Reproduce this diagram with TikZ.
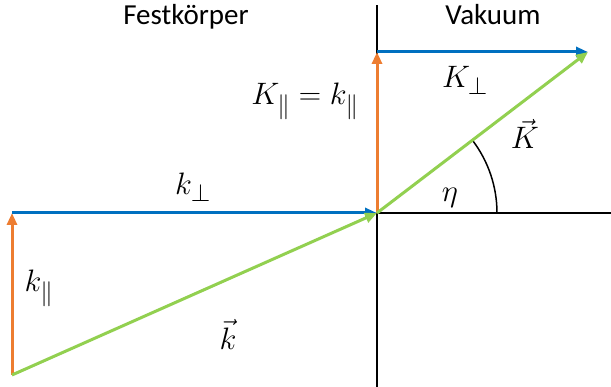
\RequirePackage{fix-cm}
\documentclass[tikz,border=0pt]{standalone}
\usepackage{fontspec}
\setmainfont{Carlito}
\DeclareMathSizes{31}{31}{25}{19}
\usetikzlibrary{arrows.meta}
\definecolor{myblue}{HTML}{0070C0}
\definecolor{myorange}{HTML}{ED7D31}
\definecolor{mygreen}{HTML}{92D050}
\tikzset{
  axis/.style={line width=2.6pt, black},
  vec/.style={line width=3pt, -{Triangle[length=12pt,width=10pt]}},
  lbl/.style={font=\fontsize{29}{34}\selectfont, inner sep=0pt, anchor=base},
  mlbl/.style={font=\fontsize{31}{36}\selectfont, inner sep=0pt, anchor=base},
}
\begin{document}
\begin{tikzpicture}[x=1pt,y=1pt]
\useasboundingbox (0,0) rectangle (611,387);
\coordinate (O) at (377,174);
\coordinate (Vt) at (377,382);
\coordinate (Vb) at (377,0);
\coordinate (Hr) at (611,174);
\coordinate (A) at (12,174);
\coordinate (B) at (12,12);
\coordinate (T) at (377,335);
\coordinate (E) at (588,335);
% axes
\draw[axis] (Vb) -- (Vt);
\draw[axis] (O) -- (Hr);
% angle arc
\draw[line width=1.5pt] (O) ++(0:120) arc[start angle=0, end angle=37.35, radius=120];
% vectors
\draw[vec, myorange] (B) -- (A);
\draw[vec, myblue] (A) -- (O);
\draw[vec, mygreen] (B) -- (O);
\draw[vec, myorange] (O) -- (T);
\draw[vec, myblue] (T) -- (E);
\draw[vec, mygreen] (O) -- (E);
% labels
\node[lbl] (fest) at (186,362) {Festkörper};
\node[lbl] (vak) at (493,362) {Vakuum};
\node[mlbl] (kperp) at (193,192) {$k_\perp$};
\node[mlbl] (Kpar) at (305,282) {$K_\parallel = k_\parallel$};
\node[mlbl] (Kperp) at (465,299) {$K_\perp$};
\node[mlbl] (Kvec) at (525,238) {$\vec{K}$};
\node[mlbl] (eta) at (450,185) {$\eta$};
\node[mlbl] (kpar) at (39,95) {$k_\parallel$};
\node[mlbl] (kvec) at (228,37) {$\vec{k}$};
\end{tikzpicture}
\end{document}
